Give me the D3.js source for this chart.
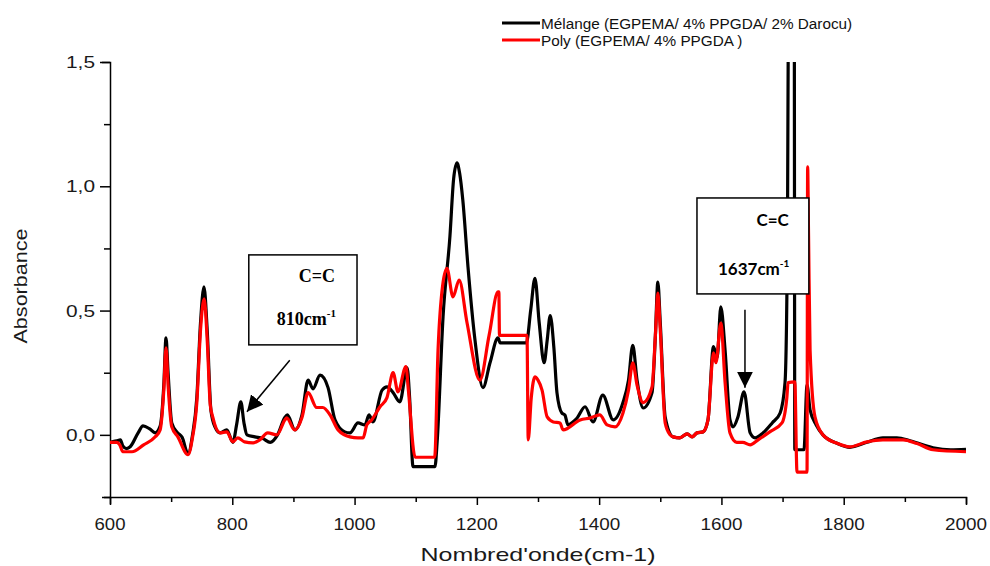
<!DOCTYPE html>
<html><head><meta charset="utf-8">
<script src="https://cdn.jsdelivr.net/npm/d3@7"></script>
<style>body{margin:0;background:#fff}svg{display:block}</style>
</head><body><svg id="c" width="990" height="566"></svg>
<script>
// ---- data ----
const xTicks = [600, 800, 1000, 1200, 1400, 1600, 1800, 2000];
const yTicks = [0.0, 0.5, 1.0, 1.5];
const yTickLabels = ["0,0", "0,5", "1,0", "1,5"];
const seriesNames = ["Mélange (EGPEMA/ 4% PPGDA/ 2% Darocu)", "Poly (EGPEMA/ 4% PPGDA )"];
const seriesColors = ["#000000", "#ff0000"];
const melange = [
[600,-0.03],[611,-0.024],[617,-0.02],[621,-0.045],[627,-0.055],[633,-0.048],[646,0.008],[654,0.036],[665,0.024],[674,0.008],
[682,0.035],[688,0.2],[691.6,0.39],[695,0.25],[701,0.048],[710,0.01],[718,-0.01],[727.6,-0.076],[735,0.0],[742,0.15],
[748,0.45],[753.7,0.595],[759,0.42],[765,0.1],[771.7,0.032],[780,0.008],[791,0.02],[801,-0.03],[807,0.04],[814,0.133],
[819,0.05],[824,0.0],[837,-0.008],[850,-0.015],[862,-0.03],[874,0.0],[886,0.07],[890,0.08],[902.6,0.02],[914,0.08],
[924,0.22],[932,0.185],[943.5,0.24],[956.6,0.19],[968,0.06],[984,0.012],[992.5,0.008],[1005.6,0.048],[1017,0.04],[1023.6,0.08],
[1030,0.052],[1045,0.18],[1053,0.193],[1063,0.17],[1074,0.133],[1086,0.27],[1090,0.15],[1095.6,-0.128],[1131.5,-0.128],[1135,-0.03],
[1144.7,0.475],[1156,0.80],[1162,1.03],[1167.5,1.094],[1172,1.05],[1177,0.945],[1185.5,0.676],[1197,0.38],[1210,0.19],[1221.5,0.29],
[1234.6,0.39],[1238,0.37],[1281,0.37],[1288,0.5],[1295,0.63],[1302,0.45],[1310,0.29],[1315,0.38],[1320,0.48],[1326,0.35],
[1331,0.17],[1339,0.088],[1344,0.08],[1349,0.04],[1356,0.05],[1364,0.068],[1377,0.113],[1390,0.052],[1406,0.16],[1423,0.06],
[1439,0.13],[1448,0.22],[1455,0.36],[1462,0.22],[1472,0.108],[1486.5,0.17],[1492,0.4],[1496,0.615],[1500,0.45],[1508,0.072],
[1521,-0.008],[1532,-0.012],[1544,0.004],[1552,-0.008],[1560,0.008],[1570,0.012],[1578,0.06],[1587,0.355],[1593,0.31],[1599,0.515],
[1606,0.34],[1614,0.06],[1619,0.032],[1627,0.072],[1637,0.173],[1647,0.008],[1655,-0.012],[1668,0.008],[1683,0.048],[1696,0.088],
[1704,0.21],[1708,0.8],[1710,2.0],[1716,2.5],[1719,2.0],[1720,-0.06],[1735,-0.06],[1740,0.2],[1745,0.1],[1755,0.04],
[1766,0.0],[1790,-0.035],[1810,-0.05],[1838,-0.03],[1864,-0.012],[1887,-0.012],[1910,-0.025],[1946,-0.052],[1975,-0.06],[2000,-0.058]
];
const poly = [
[600,-0.03],[611,-0.03],[616,-0.04],[621,-0.068],[636,-0.068],[655,-0.04],[674,-0.008],[682,0.02],[688,0.18],[691.6,0.35],
[695,0.2],[701,0.032],[711,-0.008],[727.6,-0.08],[735,-0.01],[742,0.13],[748,0.42],[754,0.547],[759,0.38],[764,0.12],
[768,0.072],[780,0.008],[791,0.012],[801,-0.028],[809,-0.012],[820,-0.028],[834,-0.032],[845,-0.02],[858,0.008],[873,0.0],
[886,0.06],[889,0.068],[902,0.02],[914,0.07],[924,0.17],[938,0.11],[948,0.11],[960,0.08],[973,0.02],[992.5,-0.008],
[1005.6,-0.012],[1014,-0.012],[1020,0.04],[1028,0.06],[1041.6,0.113],[1053,0.15],[1063,0.25],[1071,0.173],[1084,0.275],[1088,0.18],
[1099,-0.09],[1131,-0.09],[1136.5,0.34],[1144,0.6],[1151,0.67],[1161,0.555],[1171,0.623],[1184,0.45],[1205,0.22],[1220,0.4],
[1234.6,0.575],[1236,0.575],[1237,0.40],[1282,0.40],[1284,-0.02],[1289,0.15],[1295,0.233],[1300,0.22],[1306.6,0.18],[1315,0.072],
[1325,0.052],[1336,0.048],[1341,0.02],[1369,0.06],[1385,0.068],[1401,0.08],[1413,0.04],[1426,0.032],[1439,0.088],[1448,0.18],
[1455,0.29],[1462,0.2],[1472,0.13],[1486.5,0.193],[1492,0.4],[1496,0.57],[1500,0.42],[1508,0.048],[1516,0.0],[1521,-0.008],
[1532,-0.012],[1544,0.004],[1552,-0.008],[1560,0.008],[1570,0.012],[1578,0.06],[1587,0.33],[1591,0.29],[1599,0.45],[1606,0.21],
[1614,0.008],[1625,-0.03],[1635,-0.03],[1647,-0.04],[1660,-0.02],[1679,0.012],[1699,0.048],[1707,0.15],[1709,0.21],[1720,0.213],
[1723.6,-0.15],[1740,-0.15],[1741,1.078],[1742.5,0.8],[1745,0.34],[1753,0.072],[1766,0.0],[1790,-0.035],[1810,-0.048],[1838,-0.028],
[1864,-0.02],[1897,-0.02],[1920,-0.035],[1946,-0.06],[2000,-0.068]
];
// annotations (data coordinates)
const annotations = [
  {box:[827,1004,0.724,0.362], l1:"C=C", l2:"810cm", serif:true, arrow:[894,0.30,824,0.093]},
  {box:[1560,1743,0.953,0.567], l1:"C=C", l2:"1637cm", serif:false, arrow:[1638.5,0.503,1638.5,0.19]}
];

// ---- chart ----
const svg = d3.select("#c");
const x = d3.scaleLinear().domain([600, 2000]).range([110, 966]);
const y = d3.scaleLinear().domain([-0.25, 1.5]).range([497, 62]);

svg.append("defs").append("clipPath").attr("id","clip").append("rect")
  .attr("x",110).attr("y",62).attr("width",856).attr("height",435);

// axes
const xAxis = d3.axisBottom(x).tickValues(d3.range(600, 2001, 100)).tickSize(7).tickFormat("");
const gx = svg.append("g").attr("transform","translate(0,497)").call(xAxis);
gx.selectAll(".tick line").attr("y2", d => d % 200 === 0 ? 8 : 5);
const yAxis = d3.axisLeft(y).tickValues(d3.range(-0.25, 1.501, 0.25)).tickSize(8).tickFormat("");
const gy = svg.append("g").attr("transform","translate(110,0)").call(yAxis);
gy.selectAll(".tick line").attr("x2", d => Math.abs(d*2 - Math.round(d*2)) < 1e-6 ? -10 : -6);
svg.selectAll(".domain").attr("stroke","#000").attr("stroke-width",1.5);
svg.selectAll(".tick line").attr("stroke","#000").attr("stroke-width",1.5);

svg.selectAll(".xl").data(xTicks).join("text").attr("class","xl")
  .attr("x", d => x(d)).attr("y", 530).attr("text-anchor","middle")
  .attr("font-family","Liberation Sans, Arial, sans-serif").attr("font-size",16).attr("fill","#1a1a1a")
  .attr("textLength", d => String(d).length === 3 ? 31 : 42).attr("lengthAdjust","spacingAndGlyphs")
  .text(d => d);
svg.selectAll(".yl").data(yTicks).join("text").attr("class","yl")
  .attr("x", 95).attr("y", (d) => y(d) + 6).attr("text-anchor","end")
  .attr("font-family","Liberation Sans, Arial, sans-serif").attr("font-size",16).attr("fill","#1a1a1a")
  .attr("textLength", 29).attr("lengthAdjust","spacingAndGlyphs")
  .text((d,i) => yTickLabels[i]);

svg.append("text").attr("x",538).attr("y",561).attr("text-anchor","middle")
  .attr("font-family","Liberation Sans, Arial, sans-serif").attr("font-size",19).attr("fill","#1a1a1a")
  .attr("textLength",235).attr("lengthAdjust","spacingAndGlyphs")
  .text("Nombred'onde(cm-1)");
svg.append("text").attr("transform","translate(27,286) rotate(-90)").attr("text-anchor","middle")
  .attr("font-family","Liberation Sans, Arial, sans-serif").attr("font-size",18).attr("fill","#1a1a1a")
  .attr("textLength",115).attr("lengthAdjust","spacingAndGlyphs")
  .text("Absorbance");

// lines
const line = d3.line().x(d => x(d[0])).y(d => y(d[1])).curve(d3.curveMonotoneX);
const plot = svg.append("g").attr("clip-path","url(#clip)");
[melange, poly].forEach((s,i) => {
  plot.append("path").datum(s).attr("d", line).attr("fill","none")
    .attr("stroke", seriesColors[i]).attr("stroke-width", 3.2).attr("stroke-linejoin","round");
});

// legend
seriesNames.forEach((n,i) => {
  const ly = 23 + i*17;
  svg.append("line").attr("x1",502).attr("x2",540).attr("y1",ly).attr("y2",ly)
    .attr("stroke",seriesColors[i]).attr("stroke-width",3);
  svg.append("text").attr("x",541).attr("y",ly+6)
    .attr("font-family","Liberation Sans, Arial, sans-serif").attr("font-size",15.3).attr("fill","#111")
    .text(n);
});

// annotations
const defs = svg.select("defs");
defs.append("marker").attr("id","ah").attr("viewBox","0 0 10 10").attr("refX",10).attr("refY",5)
  .attr("markerWidth",16).attr("markerHeight",16).attr("markerUnits","userSpaceOnUse").attr("orient","auto")
  .append("path").attr("d","M0,0 L10,5 L0,10 Z").attr("fill","#000");
annotations.forEach(a => {
  const [x0,x1,y0,y1] = a.box;
  svg.append("rect").attr("x",x(x0)).attr("y",y(y0)).attr("width",x(x1)-x(x0)).attr("height",y(y1)-y(y0))
    .attr("fill","#fff").attr("stroke","#000").attr("stroke-width",1.5);
  const ff = a.serif ? "Liberation Serif, Times New Roman, serif" : "Lato, Open Sans, sans-serif";
  const fs = a.serif ? 18 : 17;
  const bx = x(x0), bw = x(x1)-x(x0), by = y(y0);
  if (a.serif) {
    svg.append("text").attr("x",bx+bw*0.63).attr("y",by+27).attr("text-anchor","middle")
      .attr("font-family",ff).attr("font-weight","bold").attr("font-size",fs).text(a.l1);
    const t = svg.append("text").attr("x",bx+28).attr("y",by+70).attr("font-family",ff).attr("font-weight","bold").attr("font-size",fs);
    t.append("tspan").text(a.l2);
    t.append("tspan").attr("font-size",11).attr("dy",-8).text("-1");
  } else {
    svg.append("text").attr("x",bx+bw-20).attr("y",by+28).attr("text-anchor","end")
      .attr("font-family",ff).attr("font-weight","bold").attr("font-size",fs).text(a.l1);
    const t = svg.append("text").attr("x",bx+21).attr("y",by+77).attr("font-family",ff).attr("font-weight","bold").attr("font-size",fs);
    t.append("tspan").text(a.l2);
    t.append("tspan").attr("font-size",10).attr("dy",-8).text("-1");
  }
  const [ax0,ay0,ax1,ay1] = a.arrow;
  svg.append("line").attr("x1",x(ax0)).attr("y1",y(ay0)).attr("x2",x(ax1)).attr("y2",y(ay1))
    .attr("stroke","#000").attr("stroke-width",1.5).attr("marker-end","url(#ah)");
});
</script></body></html>
